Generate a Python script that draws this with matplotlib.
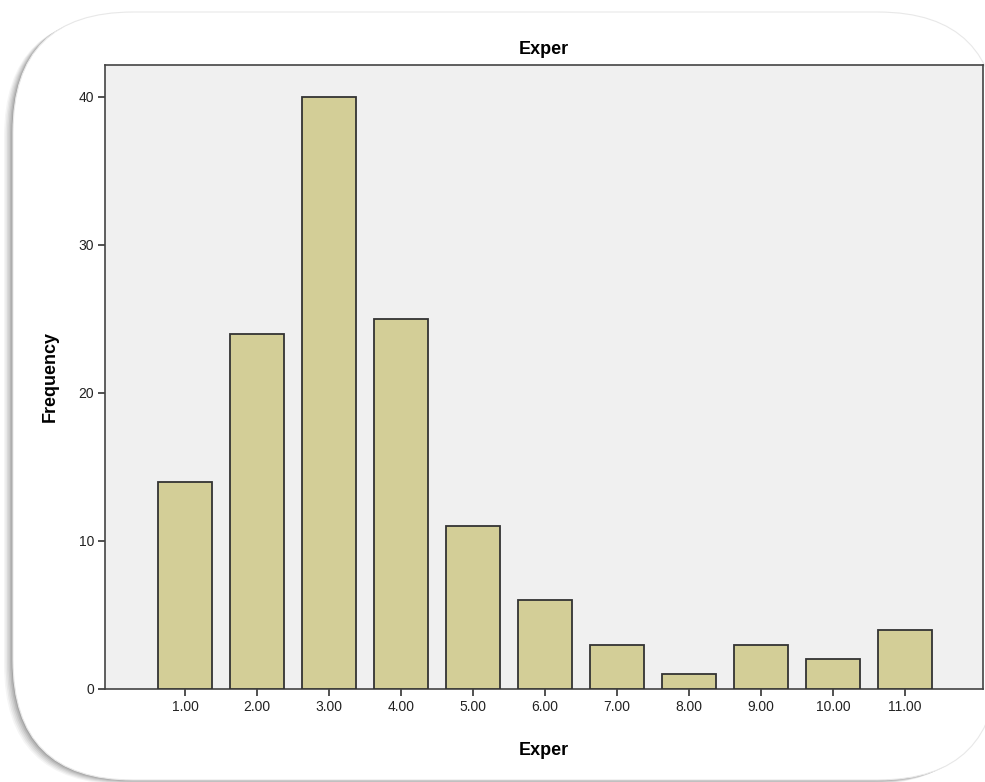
import matplotlib
matplotlib.use("Agg")
import matplotlib.pyplot as plt
from matplotlib.patches import FancyBboxPatch

# frequency of each Exper value
exper = [1, 2, 3, 4, 5, 6, 7, 8, 9, 10, 11]
freq = [14, 24, 40, 25, 11, 6, 3, 1, 3, 2, 4]
xlabels = ["1.00", "2.00", "3.00", "4.00", "5.00", "6.00",
           "7.00", "8.00", "9.00", "10.00", "11.00"]
yticks = [0, 10, 20, 30, 40]

plt.rcParams['font.family'] = ['Liberation Sans', 'DejaVu Sans']

fig = plt.figure(figsize=(9.85, 7.82), dpi=100)
fig.patch.set_facecolor('white')

# rounded card with soft shadow (in inches)
x0, y0, w, h, r = 0.13, 0.02, 9.85, 7.68, 1.2
for i, a in enumerate([0.04, 0.05, 0.06, 0.07, 0.09, 0.1]):
    off = 0.09 - i * 0.015
    sh = FancyBboxPatch((x0 - off, y0 - off * 0.5), w, h,
                        boxstyle="round,pad=0,rounding_size=%f" % r,
                        transform=fig.dpi_scale_trans,
                        facecolor='black', edgecolor='none', alpha=a,
                        zorder=0)
    fig.patches.append(sh)
card = FancyBboxPatch((x0, y0), w, h,
                      boxstyle="round,pad=0,rounding_size=%f" % r,
                      transform=fig.dpi_scale_trans,
                      facecolor='white', edgecolor='#e8e8e8', linewidth=0.8,
                      zorder=1)
fig.patches.append(card)

ax = fig.add_axes([105/985, 1 - 689/782, (983 - 105)/985, (689 - 65)/782])
ax.set_facecolor('#f0f0f0')
ax.set_zorder(2)

ax.bar(exper, freq, width=0.75, color='#d3ce97', edgecolor='#333333',
       linewidth=1.3, zorder=3)

ax.set_xlim(-0.11, 12.08)
ax.set_ylim(0, 42.16)
ax.set_xticks(exper)
ax.set_xticklabels(xlabels, fontsize=10)
ax.set_yticks(yticks)
ax.set_yticklabels([str(v) for v in yticks], fontsize=10)
ax.tick_params(direction='out', length=5, width=1.2, color='#333333',
               labelcolor='#222222', pad=3)

for s in ax.spines.values():
    s.set_color('#444444')
    s.set_linewidth(1.2)
    s.set_clip_path(card)
ax.patch.set_clip_path(card)

ax.set_title("Exper", fontsize=13, fontweight='bold', pad=8)
ax.set_xlabel("Exper", fontsize=13, fontweight='bold', labelpad=20)
ax.set_ylabel("Frequency", fontsize=13, fontweight='bold', labelpad=14)

fig.savefig("out.png", dpi=100)
